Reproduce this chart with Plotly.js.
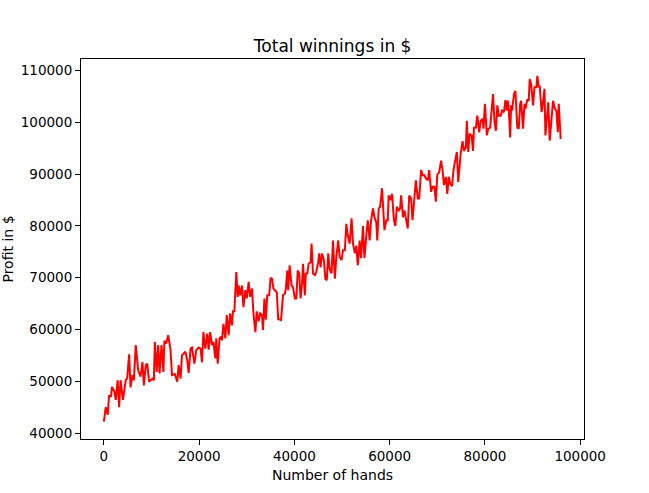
<!DOCTYPE html>
<html>
<head>
<meta charset="utf-8">
<script src="https://cdn.plot.ly/plotly-3.0.1.min.js"></script>
<style>
  html, body { margin: 0; padding: 0; background: #fff; }
  #chart { width: 649px; height: 493px; }
</style>
</head>
<body>
<div id="chart"></div>
<script>
// Total winnings

const hands = [
  0, 400, 800, 1100, 1500, 1700, 2200, 2500, 2900, 3200,
  3500, 4000, 4600, 4900, 5300, 5600, 6000, 6300, 6700, 7200,
  7700, 8100, 8400, 8800, 9100, 9500, 9800, 10200, 10500, 10700,
  11100, 11400, 11700, 12100, 12500, 12700, 13100, 13500, 14000, 14300,
  14900, 15400, 15700, 16100, 16400, 16800, 17100, 17500, 17800, 18200,
  18500, 19000, 19400, 19900, 20300, 20600, 20900, 21300, 21700, 22000,
  22300, 22700, 23000, 23400, 23600, 23900, 24300, 24600, 24800, 25100,
  25500, 25800, 26200, 26500, 26900, 27100, 27400, 27800, 28100, 28300,
  28600, 29000, 29300, 29700, 30000, 30400, 30700, 31100, 31400, 31800,
  32100, 32500, 32800, 33200, 33400, 33700, 34000, 34300, 34700, 35000,
  35300, 35600, 35900, 36300, 36600, 37200, 37600, 38000, 38200, 38500,
  38700, 39000, 39400, 39700, 40100, 40400, 40700, 41000, 41300, 41600,
  41800, 42200, 42400, 42700, 43000, 43400, 43600, 43900, 44300, 44600,
  45000, 45200, 45500, 45800, 46200, 46500, 46800, 47100, 47400, 47800,
  48100, 48500, 48800, 49200, 49500, 49900, 50200, 50600, 50900, 51200,
  51600, 52000, 52300, 52700, 53000, 53300, 53700, 54000, 54400, 54700,
  55100, 55400, 55800, 56100, 56500, 56800, 57200, 57400, 57700, 58000,
  58400, 58600, 58900, 59300, 59600, 59800, 60200, 60500, 60900, 61200,
  61500, 61900, 62200, 62400, 62800, 63100, 63500, 63800, 64100, 64500,
  64800, 65200, 65500, 65900, 66200, 66600, 66900, 67300, 67600, 68000,
  68300, 68700, 69000, 69400, 69700, 70000, 70400, 70800, 71100, 71400,
  71800, 72100, 72400, 72700, 73100, 73400, 73700, 74100, 74400, 74700,
  74900, 75300, 75600, 76000, 76200, 76500, 76800, 77200, 77500, 77700,
  78100, 78400, 78800, 79100, 79500, 79700, 80000, 80400, 80700, 81100,
  81300, 81700, 82000, 82300, 82600, 82900, 83300, 83600, 84000, 84300,
  84600, 84800, 85000, 85300, 85500, 85700, 86100, 86400, 86800, 87100,
  87400, 87600, 88000, 88300, 88500, 88900, 89200, 89400, 89700, 90100,
  90400, 90800, 91000, 91300, 91500, 91900, 92200, 92500, 92700, 93100,
  93300, 93600, 94000, 94300, 94700, 95000, 95300, 95500, 95900
];

const profit = [
  42200, 45000, 43500, 47300, 47000, 48900, 48000, 46400, 50200, 45000,
  50200, 46400, 50200, 50600, 55200, 48800, 51200, 50200, 57000, 52100,
  50900, 53700, 49200, 53100, 53400, 49900, 50200, 50500, 50200, 57600,
  51800, 57000, 51500, 57000, 51800, 57800, 57300, 58900, 56000, 51200,
  51400, 49900, 53100, 50500, 55000, 55400, 55700, 54100, 51600, 56300,
  56500, 53400, 56000, 56500, 56300, 53700, 59500, 56300, 59200, 56100,
  59500, 57000, 57600, 54400, 58300, 53400, 58300, 58600, 57900, 61100,
  58300, 62800, 58900, 63100, 60800, 63500, 63500, 71100, 66300, 68500,
  66600, 68500, 64300, 67600, 66000, 69200, 66300, 67900, 63100, 59500,
  63500, 61600, 63100, 62800, 59900, 66000, 61900, 66600, 66600, 70000,
  69800, 67900, 67600, 67200, 62000, 61800, 66600, 66900, 67900, 71400,
  67600, 72400, 68500, 68200, 66000, 66000, 71400, 70800, 66000, 68900,
  72700, 66600, 70800, 70800, 72700, 73000, 76600, 70800, 70500, 71100,
  73000, 74700, 72000, 74700, 73400, 69800, 69500, 74700, 71700, 70800,
  77200, 69800, 74000, 77200, 74000, 73400, 75300, 75300, 80400, 78200,
  76600, 81500, 76600, 74700, 76200, 72400, 77200, 73800, 80000, 73800,
  78200, 81100, 77200, 81100, 83400, 81700, 80700, 77200, 83400, 83700,
  87300, 83000, 79200, 81100, 81100, 85900, 85000, 86200, 81100, 80000,
  83700, 83000, 83400, 85900, 81700, 83000, 81100, 79500, 85900, 85300,
  81100, 86200, 88800, 85300, 85300, 90800, 89800, 89800, 89200, 88800,
  90800, 86600, 87600, 87600, 84700, 89900, 90400, 92600, 90800, 87900,
  89500, 86200, 89500, 88200, 87700, 90800, 92600, 94300, 88500, 92600,
  93900, 96400, 94500, 95200, 100300, 94300, 97800, 97500, 94500, 99000,
  99000, 101300, 98100, 100300, 100700, 98800, 103600, 97500, 98800, 99000,
  101700, 105500, 100300, 98400, 103300, 101300, 101300, 102300, 102000, 104300,
  102300, 104200, 102600, 97100, 103300, 102300, 105500, 106100, 99000, 98800,
  103600, 104200, 98800, 103600, 102600, 104500, 104200, 108400, 107400, 103300,
  106800, 106800, 109000, 106800, 107100, 102000, 103900, 106500, 97500, 101000,
  103900, 96500, 101000, 104200, 102600, 102300, 98100, 103600, 96800
];

const xTicks = [0, 20000, 40000, 60000, 80000, 100000];
const yTicks = [40000, 50000, 60000, 70000, 80000, 90000, 100000, 110000];

const font = "DejaVu Sans, sans-serif";

const data = [{
  x: hands,
  y: profit,
  type: "scatter",
  mode: "lines",
  line: { color: "#ff0000", width: 2 },
  hoverinfo: "x+y"
}];

const axisStyle = {
  showgrid: false,
  zeroline: false,
  showline: true,
  mirror: true,
  linecolor: "#000",
  linewidth: 1,
  ticks: "outside",
  ticklen: 5,
  tickwidth: 1,
  tickcolor: "#000",
  tickfont: { family: font, size: 13.5, color: "#000" }
};

const layout = {
  width: 649,
  height: 493,
  margin: { l: 81, r: 65, t: 59, b: 54 },
  paper_bgcolor: "#fff",
  plot_bgcolor: "#fff",
  showlegend: false,
  font: { family: font, color: "#000" },
  title: {
    text: "Total winnings in $",
    font: { family: font, size: 17, color: "#000" },
    x: 0.5125,
    xanchor: "center",
    yref: "container",
    y: 1 - 46 / 493,
    yanchor: "middle"
  },
  xaxis: Object.assign({}, axisStyle, {
    range: [-4800, 100800],
    tickvals: xTicks,
    ticktext: xTicks.map(String),
    title: { text: "Number of hands", font: { family: font, size: 14, color: "#000" }, standoff: 6 }
  }),
  yaxis: Object.assign({}, axisStyle, {
    range: [38840, 112260],
    tickvals: yTicks,
    ticktext: yTicks.map(String),
    title: { text: "Profit in $", font: { family: font, size: 14, color: "#000" }, standoff: 9 }
  })
};

Plotly.newPlot("chart", data, layout, { staticPlot: true, displayModeBar: false });
</script>
</body>
</html>
